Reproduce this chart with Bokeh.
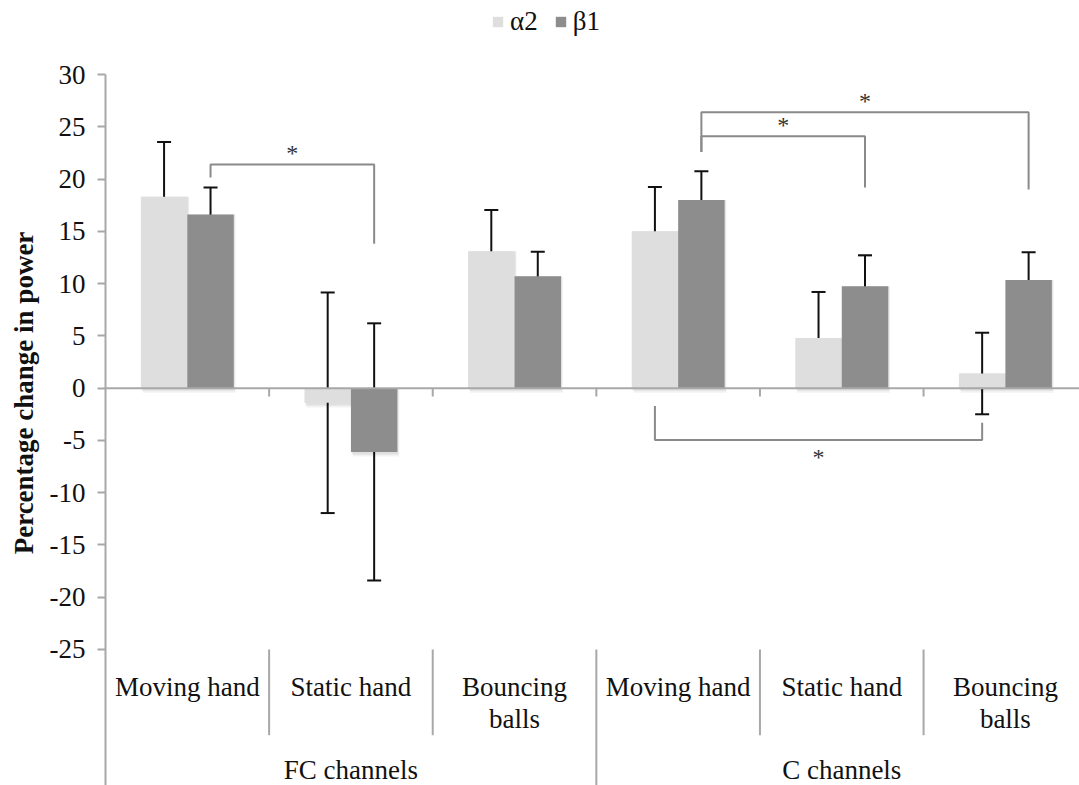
from bokeh.plotting import figure
from bokeh.models import (ColumnDataSource, Range1d, FixedTicker, Whisker, TeeHead,
                          Legend, LegendItem, Span)
from bokeh.core.properties import value
from bokeh.embed import file_html
from bokeh.resources import INLINE

# ---- data -------------------------------------------------------------
channel_groups = ["FC channels", "C channels"]
conditions = ["Moving hand", "Static hand", "Bouncing\nballs"]
series_names = ["\u03b12", "\u03b21"]

# mean percentage change in power and error (+/-) per condition, FC then C
alpha2_mean = [18.3, -1.4, 13.1, 15.0, 4.8, 1.4]
alpha2_err = [5.25, 10.55, 3.95, 4.25, 4.4, 3.9]
beta1_mean = [16.6, -6.1, 10.7, 18.0, 9.75, 10.35]
beta1_err = [2.6, 12.3, 2.35, 2.75, 2.95, 2.65]

y_ticks = [-25, -20, -15, -10, -5, 0, 5, 10, 15, 20, 25, 30]

# significance brackets: (group a, series a, group b, series b, bar level, leg end a, leg end b)
sig_brackets = [
    (0, 1, 1, 1, 21.4, 20.15, 13.8),
    (3, 1, 4, 1, 24.1, 22.6, 19.2),
    (3, 1, 5, 1, 26.4, 22.6, 19.0),
    (3, 0, 5, 0, -4.95, -1.7, -3.3),
]

# ---- styling ----------------------------------------------------------
FONT = "Liberation Serif"
LIGHT = "#dedede"
DARK = "#8d8d8d"
AXIS_GRAY = "#a8a8a8"
BRACKET_GRAY = "#8a8a8a"
BAR_W = 0.284
OFFSETS = [-BAR_W / 2, BAR_W / 2]

n_groups = len(channel_groups) * len(conditions)
centers = [i + 0.5 for i in range(n_groups)]

p = figure(width=1079, height=785, output_backend="svg", toolbar_location=None,
           x_range=Range1d(0, 5.953), y_range=Range1d(-38.01, 37.08),
           x_axis_type=None, min_border_left=105, min_border_right=0,
           min_border_top=0, min_border_bottom=0)
p.outline_line_color = None
p.grid.visible = False
p.background_fill_color = "white"
p.border_fill_color = "white"

# y axis
ax = p.yaxis[0]
ax.ticker = FixedTicker(ticks=y_ticks)
ax.major_label_overrides = {t: str(t) for t in y_ticks}
ax.bounds = (-38.01, 30)
ax.axis_line_color = AXIS_GRAY
ax.axis_line_width = 2
ax.major_tick_line_color = AXIS_GRAY
ax.major_tick_line_width = 2
ax.major_tick_out = 8
ax.major_tick_in = 0
ax.minor_tick_line_color = None
ax.major_label_standoff = 12
ax.major_label_text_font = FONT
ax.major_label_text_font_size = "27px"
ax.major_label_text_color = "#111111"
ax.axis_label = "Percentage change in power"
ax.axis_label_text_font = FONT
ax.axis_label_text_font_size = "27px"
ax.axis_label_text_font_style = "bold"
ax.axis_label_text_color = "#111111"
ax.axis_label_standoff = 8

# zero line with group-boundary ticks
p.add_layout(Span(location=0, dimension="width", line_color=AXIS_GRAY, line_width=2))
bounds_x = list(range(1, n_groups))
p.segment(x0=bounds_x, y0=[0] * len(bounds_x), x1=bounds_x, y1=[-0.8] * len(bounds_x),
          line_color=AXIS_GRAY, line_width=2)

# bars with a soft shadow
renderers = []
for k, (means, col) in enumerate([(alpha2_mean, LIGHT), (beta1_mean, DARK)]):
    xs = [c + OFFSETS[k] for c in centers]
    for dx, dy, a in [(0.012, 0.45, 0.05), (0.006, 0.25, 0.07)]:
        p.vbar(x=[x + dx for x in xs], width=BAR_W,
               top=[max(m, 0) for m in means],
               bottom=[min(m, 0) - dy for m in means],
               fill_color="black", fill_alpha=a, line_color=None)
    r = p.vbar(x=xs, top=means, bottom=0, width=BAR_W,
               fill_color=col, line_color=None)
    renderers.append(r)

# error bars
for k, (means, errs) in enumerate([(alpha2_mean, alpha2_err), (beta1_mean, beta1_err)]):
    xs = [c + OFFSETS[k] for c in centers]
    src = ColumnDataSource(dict(x=xs,
                                upper=[m + e for m, e in zip(means, errs)],
                                lower=[m - e for m, e in zip(means, errs)]))
    w = Whisker(base="x", upper="upper", lower="lower", source=src,
                line_color="#111111", line_width=2,
                upper_head=TeeHead(size=14, line_color="#111111", line_width=2),
                lower_head=TeeHead(size=14, line_color="#111111", line_width=2))
    p.add_layout(w)

# significance brackets
for ga, sa, gb, sb, yb, ya_end, yb_end in sig_brackets:
    xa = centers[ga] + OFFSETS[sa]
    xb = centers[gb] + OFFSETS[sb]
    p.line(x=[xa, xa, xb, xb], y=[ya_end, yb, yb, yb_end],
           line_color=BRACKET_GRAY, line_width=2)
    star_y = yb + 1.05 if yb > 0 else yb - 1.6
    p.text(x=[(xa + xb) / 2], y=[star_y], text=["*"], text_font=value(FONT),
           text_font_size="24px", text_align="center", text_baseline="middle",
           text_color="#333333")

# category labels below the plot area
lab_x, lab_y, lab_t = [], [], []
for gi in range(len(channel_groups)):
    for ci, cond in enumerate(conditions):
        c = centers[gi * len(conditions) + ci]
        for li, line in enumerate(cond.split("\n")):
            lab_x.append(c)
            lab_y.append(-28.6 - 3.05 * li)
            lab_t.append(line)
p.text(x=lab_x, y=lab_y, text=lab_t, text_font=value(FONT), text_font_size="27px",
       text_align="center", text_baseline="alphabetic", text_color="#111111")

grp_x = [1.5 + 3 * gi for gi in range(len(channel_groups))]
p.text(x=grp_x, y=[-36.5] * len(grp_x), text=channel_groups, text_font=value(FONT),
       text_font_size="27px", text_align="center", text_baseline="alphabetic",
       text_color="#111111")

# separators between category labels
sub_x = [1, 2, 4, 5]
p.segment(x0=sub_x, y0=[-25] * 4, x1=sub_x, y1=[-33.2] * 4,
          line_color=AXIS_GRAY, line_width=2)
p.segment(x0=[3], y0=[-25], x1=[3], y1=[-38.01], line_color=AXIS_GRAY, line_width=2)

# legend
legend = Legend(items=[LegendItem(label=series_names[i], renderers=[renderers[i]])
                       for i in range(2)],
                orientation="horizontal", location=(386, 748),
                glyph_width=13, glyph_height=13, label_standoff=6, spacing=16,
                padding=0, margin=0, border_line_color=None,
                background_fill_alpha=0,
                label_text_font=FONT, label_text_font_size="27px",
                label_text_color="#111111")
p.add_layout(legend)

open("out.html", "w").write(file_html(p, INLINE))
